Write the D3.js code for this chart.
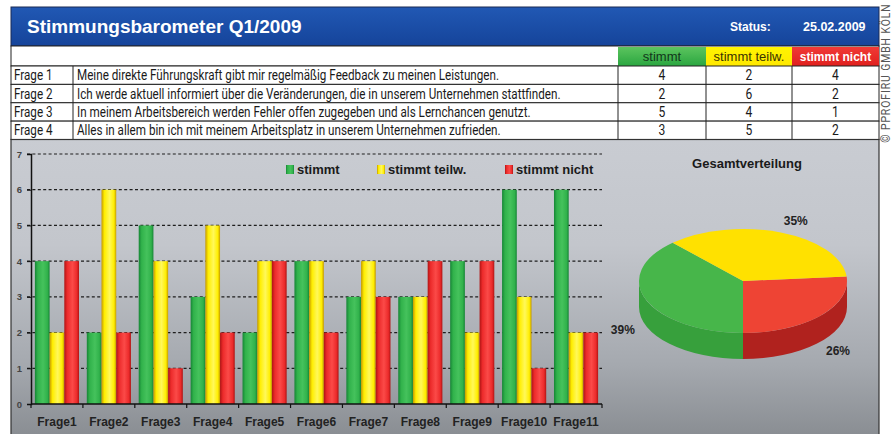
<!DOCTYPE html>
<html>
<head>
<meta charset="utf-8">
<script src="https://cdn.jsdelivr.net/npm/d3@7"></script>
<style>
  body { margin: 0; background: #fff; }
  svg { display: block; font-family: Arial, "Liberation Sans", sans-serif; }
  .cond { font-family: Roboto, "Liberation Sans", sans-serif; }
</style>
</head>
<body>
<div id="chart"></div>
<script>
// ---- data ----
const title = "Stimmungsbarometer Q1/2009";
const statusLabel = "Status:";
const statusDate = "25.02.2009";
const seriesNames = ["stimmt", "stimmt teilw.", "stimmt nicht"];

const questionIds = ["Frage 1", "Frage 2", "Frage 3", "Frage 4"];
const questionTexts = [
  "Meine direkte Führungskraft gibt mir regelmäßig Feedback zu meinen Leistungen.",
  "Ich werde aktuell informiert über die Veränderungen, die in unserem Unternehmen stattfinden.",
  "In meinem Arbeitsbereich werden Fehler offen zugegeben und als Lernchancen genutzt.",
  "Alles in allem bin ich mit meinem Arbeitsplatz in unserem Unternehmen zufrieden."
];
const tableStimmt = [4, 2, 5, 3];
const tableTeilw = [2, 6, 4, 5];
const tableNicht = [4, 2, 1, 2];

const categories = ["Frage1", "Frage2", "Frage3", "Frage4", "Frage5", "Frage6",
                    "Frage7", "Frage8", "Frage9", "Frage10", "Frage11"];
const stimmt = [4, 2, 5, 3, 2, 4, 3, 3, 4, 6, 6];
const teilw  = [2, 6, 4, 5, 4, 4, 4, 3, 2, 3, 2];
const nicht  = [4, 2, 1, 2, 4, 2, 3, 4, 4, 1, 2];
const yTicks = [0, 1, 2, 3, 4, 5, 6, 7];

const pieTitle = "Gesamtverteilung";
const pieLabels = ["39%", "35%", "26%"];   // stimmt, teilw., nicht
const copyright = "© PPROFIRU GMBH KÖLN";

// ---- colours ----
const barCols = [
  {edge: "#168536", main: "#31b24b", light: "#45c25c"},
  {edge: "#c49a00", main: "#ffee00", light: "#fff85a"},
  {edge: "#b01414", main: "#ec2b2b", light: "#fb4a48"}
];
const pieTop  = ["#47b64a", "#ffe100", "#ee4434"];
const pieSide = ["#37a03c", null, "#b0221e"];
const narrow = 0.805;   // horizontal squeeze for the condensed table font

const W = 893, H = 434;
const svg = d3.select("#chart").append("svg")
  .attr("width", W).attr("height", H);
const defs = svg.append("defs");

// gradients
const bg = defs.append("linearGradient").attr("id", "bg")
  .attr("x1", 0).attr("y1", 0).attr("x2", 0).attr("y2", 1);
bg.append("stop").attr("offset", "0%").attr("stop-color", "#c9ccd2");
bg.append("stop").attr("offset", "35%").attr("stop-color", "#c3c6cc");
bg.append("stop").attr("offset", "75%").attr("stop-color", "#a5a9af");
bg.append("stop").attr("offset", "100%").attr("stop-color", "#888c91");

const hdr = defs.append("linearGradient").attr("id", "hdr")
  .attr("x1", 0).attr("y1", 0).attr("x2", 0).attr("y2", 1);
hdr.append("stop").attr("offset", "0%").attr("stop-color", "#2158b4");
hdr.append("stop").attr("offset", "100%").attr("stop-color", "#15449a");

barCols.forEach((c, i) => {
  const g = defs.append("linearGradient").attr("id", "bar" + i)
    .attr("x1", 0).attr("y1", 0).attr("x2", 1).attr("y2", 0);
  g.append("stop").attr("offset", "0%").attr("stop-color", c.edge);
  g.append("stop").attr("offset", "20%").attr("stop-color", c.main);
  g.append("stop").attr("offset", "55%").attr("stop-color", c.light);
  g.append("stop").attr("offset", "85%").attr("stop-color", c.main);
  g.append("stop").attr("offset", "100%").attr("stop-color", c.edge);
});

const cellCols = [["#2aa640", "#5cc45e"], ["#ffe800", "#fff400"], ["#e0201e", "#f03a36"]];
cellCols.forEach((c, i) => {
  const g = defs.append("linearGradient").attr("id", "cell" + i)
    .attr("x1", 0).attr("y1", 0).attr("x2", 0).attr("y2", 1);
  g.append("stop").attr("offset", "0%").attr("stop-color", c[1]);
  g.append("stop").attr("offset", "100%").attr("stop-color", c[0]);
});

// ---- header band ----
const left = 11, right = 879;
svg.append("rect").attr("x", left).attr("y", 7).attr("width", right - left).attr("height", 39)
  .attr("fill", "url(#hdr)").attr("stroke", "#1b2b55").attr("stroke-width", 1);
svg.append("text").attr("x", 27).attr("y", 33).text(title)
  .attr("fill", "#fff").attr("font-weight", "bold").attr("font-size", 19);
svg.append("text").attr("x", 730).attr("y", 31).text(statusLabel)
  .attr("fill", "#fff").attr("font-weight", "bold").attr("font-size", 12);
svg.append("text").attr("x", 803).attr("y", 31).text(statusDate)
  .attr("fill", "#fff").attr("font-weight", "bold").attr("font-size", 12.5);

// ---- table ----
const colX = [left, 73, 618, 706, 792, right];
const rowY = d3.scaleBand().domain(questionIds).range([66, 139.5]);

svg.append("rect").attr("x", left).attr("y", 46).attr("width", right - left).attr("height", 20)
  .attr("fill", "#fff").attr("stroke", "#222");
seriesNames.forEach((s, i) => {
  svg.append("rect").attr("x", colX[i + 2]).attr("y", 47).attr("width", colX[i + 3] - colX[i + 2]).attr("height", 19)
    .attr("fill", "url(#cell" + i + ")");
  svg.append("text").attr("x", (colX[i + 2] + colX[i + 3]) / 2).attr("y", 61)
    .attr("text-anchor", "middle").text(s)
    .attr("font-size", i === 2 ? 12 : 13)
    .attr("font-weight", i === 2 ? "bold" : "normal")
    .attr("fill", i === 0 ? "#12361a" : i === 1 ? "#3a3300" : "#fff");
});

const condText = (g, x, y, txt, size, anchor) =>
  g.append("text").attr("transform", `translate(${x},${y}) scale(${narrow},1)`)
    .attr("text-anchor", anchor || "start").text(txt)
    .attr("font-size", size).attr("fill", "#1a1a1a");

const tableCols = [tableStimmt, tableTeilw, tableNicht];
const rows = svg.append("g").attr("class", "cond");
questionIds.forEach((q, r) => {
  const y0 = rowY(q), h = rowY.bandwidth();
  const base = y0 + h / 2 + 5;
  rows.append("rect").attr("x", left).attr("y", y0).attr("width", right - left).attr("height", h)
    .attr("fill", "#fff").attr("stroke", "#222");
  condText(rows, 14, base, q, 14.5);
  condText(rows, 77, base, questionTexts[r], 14.5);
  tableCols.forEach((col, c) => {
    condText(rows, (colX[c + 2] + colX[c + 3]) / 2, base, col[r], 15, "middle");
  });
});
colX.slice(1, 5).forEach(x => {
  svg.append("line").attr("x1", x).attr("x2", x).attr("y1", 66).attr("y2", 139.5)
    .attr("stroke", "#222");
});

// ---- chart panel ----
svg.append("rect").attr("x", left).attr("y", 139.5).attr("width", right - left).attr("height", 300)
  .attr("fill", "url(#bg)").attr("stroke", "#333").attr("stroke-width", 1.2);

// copyright (vertical, right margin)
svg.append("text").attr("class", "cond")
  .attr("transform", `translate(889.5,73) rotate(-90) scale(${narrow},1)`)
  .attr("text-anchor", "middle").text(copyright)
  .attr("font-size", 13).attr("letter-spacing", 1.1).attr("fill", "#555");

// ---- bar chart ----
const x = d3.scaleBand().domain(categories).range([31, 602])
  .paddingInner(0.15).paddingOuter(0.075);
const x1 = d3.scaleBand().domain(seriesNames).range([0, x.bandwidth()]);
const y = d3.scaleLinear().domain([0, 7]).range([404, 154]);

const chart = svg.append("g");

chart.selectAll(".grid").data(yTicks.filter(d => d > 0)).join("line")
  .attr("class", "grid")
  .attr("x1", 27).attr("x2", 602)
  .attr("y1", d => y(d)).attr("y2", d => y(d))
  .attr("stroke", "#1e1e1e").attr("stroke-width", 1.2).attr("stroke-dasharray", "3,2.4");

const seriesVals = [stimmt, teilw, nicht];
seriesNames.forEach((s, si) => {
  chart.append("g").selectAll("rect").data(seriesVals[si]).join("rect")
    .attr("x", (d, i) => x(categories[i]) + x1(s))
    .attr("y", d => y(d))
    .attr("width", x1.bandwidth())
    .attr("height", d => y(0) - y(d))
    .attr("fill", "url(#bar" + si + ")");
});

// y axis
const yAxis = chart.append("g").attr("transform", "translate(31,0)")
  .call(d3.axisLeft(y).tickValues(yTicks).tickFormat(d3.format("d")).tickSize(4).tickPadding(5));
yAxis.select(".domain").attr("stroke", "#111").attr("stroke-width", 1.5);
yAxis.selectAll(".tick line").attr("stroke", "#111");
yAxis.selectAll("text").attr("font-size", 9.5).attr("font-weight", "bold").attr("fill", "#444")
  .attr("font-family", "Arial, sans-serif");

// x axis with ticks at category borders
const half = (x.step() - x.bandwidth()) / 2;
const borders = categories.map(c => x(c) - half).concat([x(categories[categories.length - 1]) + x.bandwidth() + half]);
chart.append("line").attr("x1", 31).attr("x2", borders[borders.length - 1])
  .attr("y1", y(0)).attr("y2", y(0)).attr("stroke", "#111").attr("stroke-width", 1.5);
chart.selectAll(".xt").data(borders).join("line").attr("class", "xt")
  .attr("x1", d => d).attr("x2", d => d).attr("y1", y(0)).attr("y2", y(0) + 4)
  .attr("stroke", "#111").attr("stroke-width", 1.2);
chart.selectAll(".xl").data(categories).join("text").attr("class", "xl")
  .attr("x", d => x(d) + x.bandwidth() / 2).attr("y", 426)
  .attr("text-anchor", "middle").text(d => d)
  .attr("font-size", 12).attr("font-weight", "bold").attr("fill", "#222");

// legend
const legX = [286, 377, 505];
seriesNames.forEach((s, i) => {
  chart.append("rect").attr("x", legX[i]).attr("y", 165).attr("width", 8).attr("height", 9)
    .attr("fill", "url(#bar" + i + ")");
  chart.append("text").attr("x", legX[i] + 11).attr("y", 174).text(s)
    .attr("font-size", 13).attr("font-weight", "bold").attr("fill", "#1a1a1a");
});

// ---- 3D pie ----
const cx = 743, cy = 281, rx = 104, ry = 52, depth = 26;
const totals = seriesVals.map(v => d3.sum(v));
const redSpan = totals[2] / d3.sum(totals) * 2 * Math.PI;
const pie = d3.pie().sort(null).value(d => d.value)
  .startAngle(Math.PI - redSpan).endAngle(3 * Math.PI - redSpan);
const slices = pie([2, 0, 1].map(k => ({key: k, value: totals[k]})));

const pt = (a, dy = 0, f = 1) => [cx + rx * f * Math.sin(a), cy - ry * f * Math.cos(a) + dy];
const pg = svg.append("g");

// side walls (front half only)
slices.forEach(s => {
  const b0 = Math.max(s.startAngle, Math.PI / 2), b1 = Math.min(s.endAngle, 3 * Math.PI / 2);
  if (b1 <= b0 || !pieSide[s.data.key]) return;
  const p0 = pt(b0), p1 = pt(b1), q0 = pt(b0, depth), q1 = pt(b1, depth);
  pg.append("path")
    .attr("d", `M${p0}A${rx},${ry} 0 0 1 ${p1}L${q1}A${rx},${ry} 0 0 0 ${q0}Z`)
    .attr("fill", pieSide[s.data.key]);
});
// top faces
slices.forEach(s => {
  const p0 = pt(s.startAngle), p1 = pt(s.endAngle);
  const large = s.endAngle - s.startAngle > Math.PI ? 1 : 0;
  pg.append("path")
    .attr("d", `M${cx},${cy}L${p0}A${rx},${ry} 0 ${large} 1 ${p1}Z`)
    .attr("fill", pieTop[s.data.key]);
});
// labels
slices.forEach(s => {
  const a = (s.startAngle + s.endAngle) / 2;
  const front = Math.cos(a) < 0;
  const p = pt(a, front ? depth : 0, 1.24);
  pg.append("text").attr("x", p[0] + (front ? 0 : 6)).attr("y", p[1] + 4)
    .attr("text-anchor", "middle").text(pieLabels[s.data.key])
    .attr("font-size", 12).attr("font-weight", "bold").attr("fill", "#222");
});
svg.append("text").attr("x", 747).attr("y", 168).attr("text-anchor", "middle").text(pieTitle)
  .attr("font-size", 13).attr("font-weight", "bold").attr("fill", "#1a1a1a");
</script>
</body>
</html>
